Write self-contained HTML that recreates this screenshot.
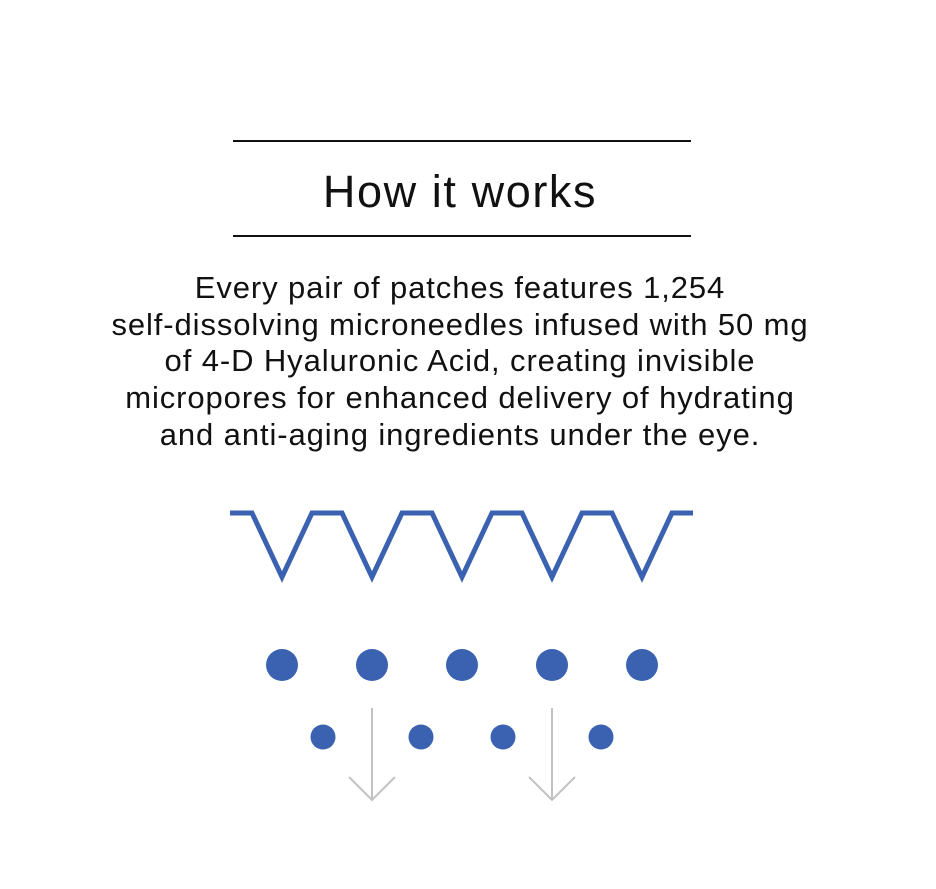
<!DOCTYPE html>
<html><head><style>
body{margin:0;width:936px;height:889px;background:#fff;position:relative;overflow:hidden;font-family:"Liberation Sans",sans-serif;color:#111}
.hr{position:absolute;left:233px;width:458px;height:2px;background:#111}
.t{position:absolute;left:0;width:920px;text-align:center}
</style></head><body>
<div class="hr" style="top:140px"></div>
<div class="t" style="top:166px;font-size:45px;letter-spacing:1.6px">How it works</div>
<div class="hr" style="top:235px"></div>
<div class="t" style="top:270px;font-size:31px;line-height:36.7px;letter-spacing:0.9px">Every pair of patches features 1,254<br>self-dissolving microneedles infused with 50 mg<br>of 4-D Hyaluronic Acid, creating invisible<br>micropores for enhanced delivery of hydrating<br>and anti-aging ingredients under the eye.</div>
<svg width="936" height="889" style="position:absolute;left:0;top:0">
<polyline fill="none" stroke="#3a62b0" stroke-width="5" points="230,513 252,513 282,577 312,513 342,513 372,577 402,513 432,513 462,577 492,513 522,513 552,577 582,513 612,513 642,577 672,513 693,513"/>
<g fill="#3a62b0">
<circle cx="282" cy="665" r="16"/><circle cx="372" cy="665" r="16"/><circle cx="462" cy="665" r="16"/><circle cx="552" cy="665" r="16"/><circle cx="642" cy="665" r="16"/>
<circle cx="323" cy="737" r="12.5"/><circle cx="421" cy="737" r="12.5"/><circle cx="503" cy="737" r="12.5"/><circle cx="601" cy="737" r="12.5"/>
</g>
<g fill="none" stroke="#c2c2c2" stroke-width="2">
<line x1="372" y1="708" x2="372" y2="800"/><polyline points="349,777 372,800 395,777"/>
<line x1="552" y1="708" x2="552" y2="800"/><polyline points="529,777 552,800 575,777"/>
</g>
</svg>
</body></html>
